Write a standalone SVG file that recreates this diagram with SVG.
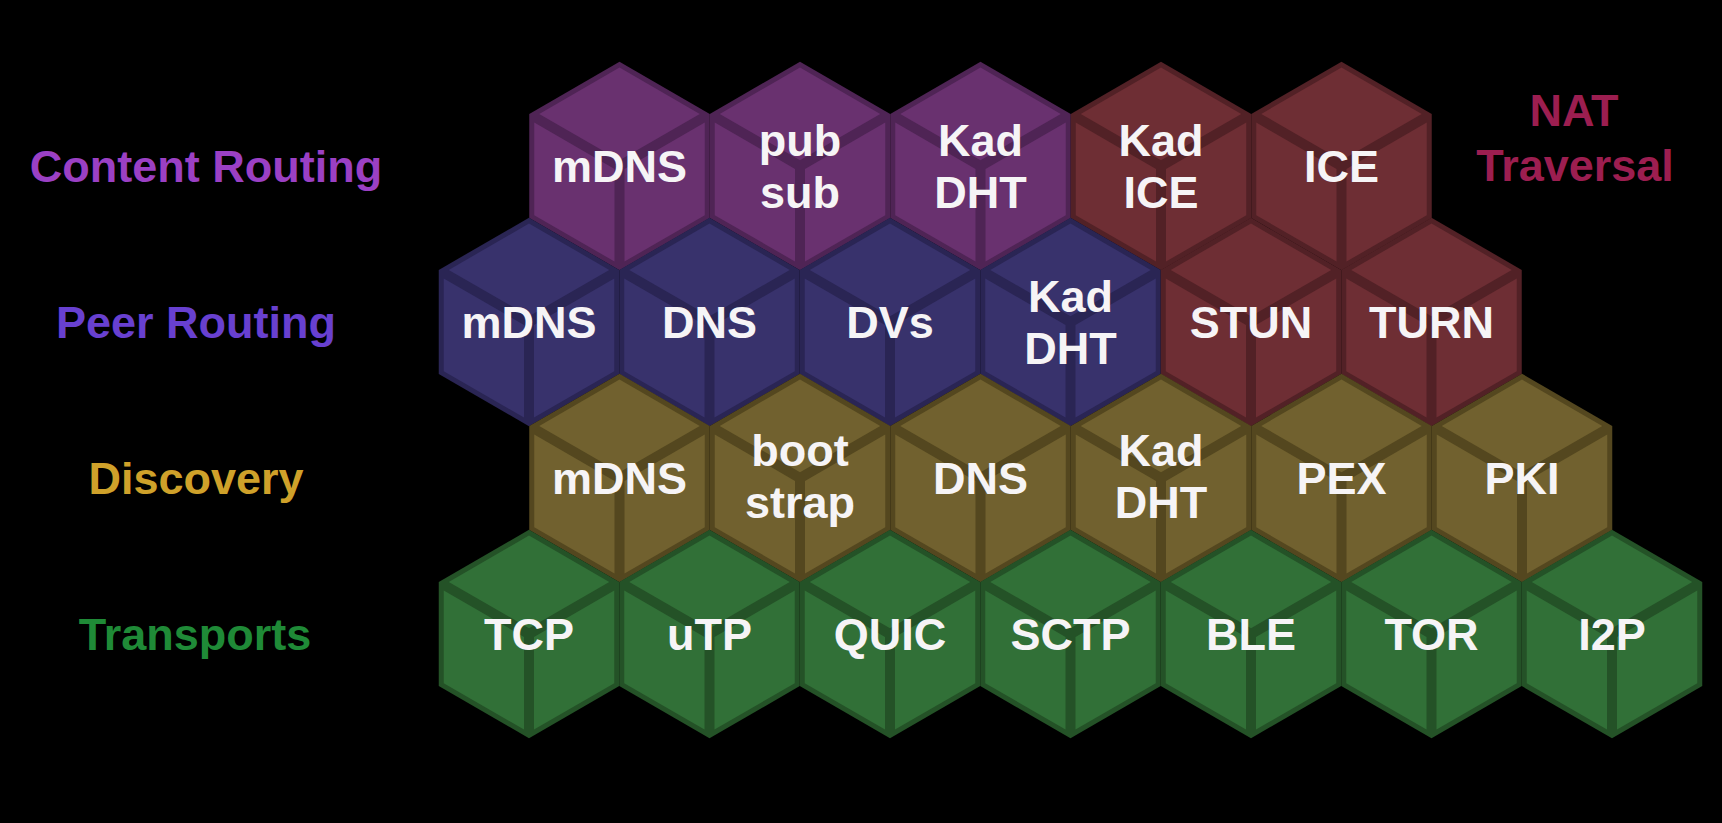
<svg xmlns="http://www.w3.org/2000/svg" xmlns:xlink="http://www.w3.org/1999/xlink" width="1722" height="823" viewBox="0 0 1722 823">
<style>
.lbl{font-family:"Liberation Sans",Arial,sans-serif;font-weight:bold;font-size:45px;fill:#f6f4f6;text-anchor:middle}
.side{font-family:"Liberation Sans",Arial,sans-serif;font-weight:bold;font-size:45px;text-anchor:middle}
.c{fill:#4f2455;color:#69316f}
.p{fill:#2a2554;color:#38326c}
.d{fill:#54471f;color:#71612f}
.t{fill:#245227;color:#317037}
.n{fill:#522126;color:#6e2e34}
</style>
<defs>
<g id="cube">
<polygon points="0,-104.2 90.25,-52.1 90.25,52.1 0,104.2 -90.25,52.1 -90.25,-52.1"/>
<polygon fill="currentColor" points="0,-98.4 80.25,-52.1 0,-5.8 -80.25,-52.1"/>
<polygon fill="currentColor" points="-85.25,-43.4 -5,2.9 -5,95.5 -85.25,49.2"/>
<polygon fill="currentColor" points="85.25,-43.4 5,2.9 5,95.5 85.25,49.2"/>
</g>
</defs>
<rect width="1722" height="823" fill="#000"/>

<g id="labels">
<text class="side" x="206" y="182" fill="#9b40c4">Content Routing</text>
<text class="side" x="196" y="338" fill="#6840d0">Peer Routing</text>
<text class="side" x="196" y="494" fill="#cfa12a">Discovery</text>
<text class="side" x="195" y="650" fill="#1f8a37">Transports</text>
<text class="side" x="1574" y="126" fill="#9c1e50">NAT</text>
<text class="side" x="1575" y="181" fill="#9c1e50">Traversal</text>
</g>

<g id="connectors"></g>

<!-- Content Routing row -->
<g id="cr-mdns"><use href="#cube" x="619.5" y="166" class="c"/><text class="lbl" x="619.5" y="182">mDNS</text></g>
<g id="cr-pubsub"><use href="#cube" x="800" y="166" class="c"/><text class="lbl" x="800" y="156">pub</text><text class="lbl" x="800" y="208">sub</text></g>
<g id="cr-kaddht"><use href="#cube" x="980.5" y="166" class="c"/><text class="lbl" x="980.5" y="156">Kad</text><text class="lbl" x="980.5" y="208">DHT</text></g>
<g id="nat-kadice"><use href="#cube" x="1161" y="166" class="n"/><text class="lbl" x="1161" y="156">Kad</text><text class="lbl" x="1161" y="208">ICE</text></g>
<g id="nat-ice"><use href="#cube" x="1341.5" y="166" class="n"/><text class="lbl" x="1341.5" y="182">ICE</text></g>

<!-- Peer Routing row -->
<g id="pr-mdns"><use href="#cube" x="529" y="322" class="p"/><text class="lbl" x="529" y="338">mDNS</text></g>
<g id="pr-dns"><use href="#cube" x="709.5" y="322" class="p"/><text class="lbl" x="709.5" y="338">DNS</text></g>
<g id="pr-dvs"><use href="#cube" x="890" y="322" class="p"/><text class="lbl" x="890" y="338">DVs</text></g>
<g id="pr-kaddht"><use href="#cube" x="1070.5" y="322" class="p"/><text class="lbl" x="1070.5" y="312">Kad</text><text class="lbl" x="1070.5" y="364">DHT</text></g>
<g id="nat-stun"><use href="#cube" x="1251" y="322" class="n"/><text class="lbl" x="1251" y="338">STUN</text></g>
<g id="nat-turn"><use href="#cube" x="1431.5" y="322" class="n"/><text class="lbl" x="1431.5" y="338">TURN</text></g>

<!-- Discovery row -->
<g id="ds-mdns"><use href="#cube" x="619.5" y="478" class="d"/><text class="lbl" x="619.5" y="494">mDNS</text></g>
<g id="ds-bootstrap"><use href="#cube" x="800" y="478" class="d"/><text class="lbl" x="800" y="466">boot</text><text class="lbl" x="800" y="518">strap</text></g>
<g id="ds-dns"><use href="#cube" x="980.5" y="478" class="d"/><text class="lbl" x="980.5" y="494">DNS</text></g>
<g id="ds-kaddht"><use href="#cube" x="1161" y="478" class="d"/><text class="lbl" x="1161" y="466">Kad</text><text class="lbl" x="1161" y="518">DHT</text></g>
<g id="ds-pex"><use href="#cube" x="1341.5" y="478" class="d"/><text class="lbl" x="1341.5" y="494">PEX</text></g>
<g id="ds-pki"><use href="#cube" x="1522" y="478" class="d"/><text class="lbl" x="1522" y="494">PKI</text></g>

<!-- Transports row -->
<g id="tr-tcp"><use href="#cube" x="529" y="634" class="t"/><text class="lbl" x="529" y="650">TCP</text></g>
<g id="tr-utp"><use href="#cube" x="709.5" y="634" class="t"/><text class="lbl" x="709.5" y="650">uTP</text></g>
<g id="tr-quic"><use href="#cube" x="890" y="634" class="t"/><text class="lbl" x="890" y="650">QUIC</text></g>
<g id="tr-sctp"><use href="#cube" x="1070.5" y="634" class="t"/><text class="lbl" x="1070.5" y="650">SCTP</text></g>
<g id="tr-ble"><use href="#cube" x="1251" y="634" class="t"/><text class="lbl" x="1251" y="650">BLE</text></g>
<g id="tr-tor"><use href="#cube" x="1431.5" y="634" class="t"/><text class="lbl" x="1431.5" y="650">TOR</text></g>
<g id="tr-i2p"><use href="#cube" x="1612" y="634" class="t"/><text class="lbl" x="1612" y="650">I2P</text></g>
</svg>
